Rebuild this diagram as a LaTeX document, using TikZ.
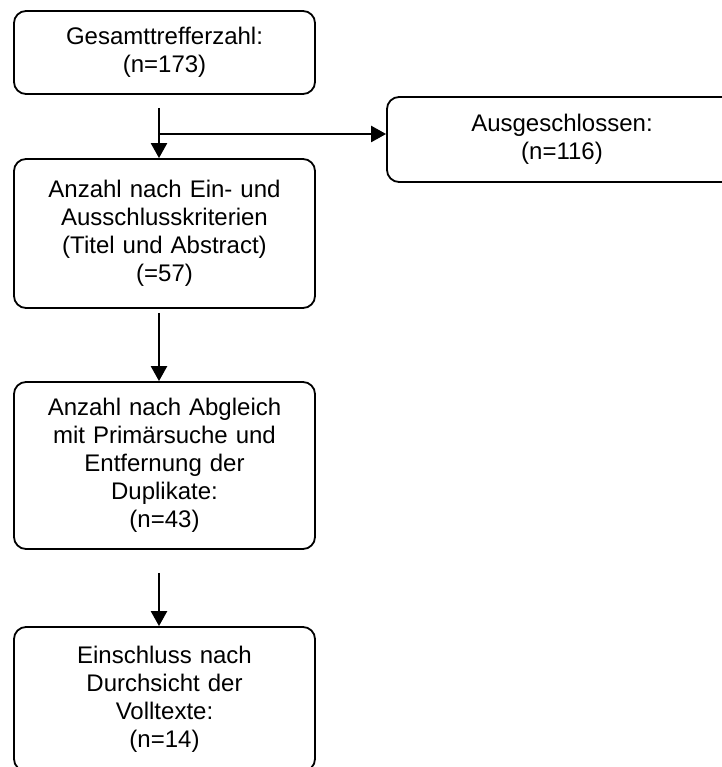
\documentclass[tikz,border=0pt]{standalone}
\usepackage{fontspec}
\setmainfont{Liberation Sans}
\usetikzlibrary{arrows.meta}
\begin{document}
\begin{tikzpicture}[x=1pt,y=1pt,
  box/.style={draw=black,line width=1.8pt,rounded corners=12pt,align=center,
    font=\fontsize{24}{28}\selectfont,inner sep=0pt,text width=295pt},
  arr/.style={line width=2.4pt,-{Triangle[length=15pt,width=16pt]}}]
\useasboundingbox (0,0) rectangle (721,-767);
\fill[white] (0,0) rectangle (721,-767);
\node[box,minimum width=301pt,minimum height=83pt] (b1) at (164.5,-52.5) {Gesamttrefferzahl:\\(n=173)};
\node[box,minimum width=301pt,minimum height=149pt] (b2) at (164.5,-233.5) {Anzahl nach Ein- und\\Ausschlusskriterien\\(Titel und Abstract)\\(=57)};
\node[box,minimum width=301pt,minimum height=167pt] (b3) at (164.5,-465.5) {Anzahl nach Abgleich\\mit Primärsuche und\\Entfernung der\\Duplikate:\\(n=43)};
\node[box,minimum width=301pt,minimum height=144pt] (b4) at (164.5,-699) {Einschluss nach\\Durchsicht der\\Volltexte:\\(n=14)};
\node[box,minimum width=350pt,minimum height=85pt,text width=340pt] (ex) at (562,-139.5) {Ausgeschlossen:\\(n=116)};
\coordinate (ax) at (159,0);
\coordinate (br) at (159,-134);
\draw[arr] ([yshift=-13pt]b1.south -| ax) -- (b2.north -| ax);
\draw[arr] (br) -- (ex.west |- br);
\draw[arr] ([yshift=-4pt]b2.south -| ax) -- (b3.north -| ax);
\draw[arr] ([yshift=-23pt]b3.south -| ax) -- (b4.north -| ax);
\end{tikzpicture}
\end{document}
